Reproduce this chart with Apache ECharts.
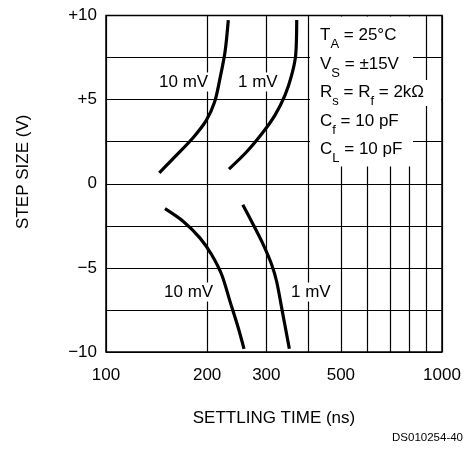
<!DOCTYPE html>
<html><head><meta charset="utf-8">
<script src="https://cdn.jsdelivr.net/npm/echarts@6/dist/echarts.min.js"></script>
<style>html,body{margin:0;padding:0;background:#fff}#c{width:467px;height:449px}</style>
</head><body><div id="c"></div>
<script>
// ---- data ----
const xGridTicks = [100, 200, 300, 400, 500, 600, 700, 800, 900, 1000];
const xTickLabels = [100, 200, 300, 500, 1000];
const yTickValues = [-10, -5, 0, 5, 10];
const yTickLabels = ['\u221210', '\u22125', '0', '+5', '+10'];
const pos10mV = [[144.1, 0.65], [162.4, 1.71], [181.9, 2.75], [198.6, 3.75], [210.6, 4.87], [218.4, 6.26], [226.1, 7.85], [231.2, 9.73]];
const pos1mV  = [[232.3, 0.87], [262.3, 1.90], [294.0, 3.09], [318.4, 4.08], [341.1, 5.27], [356.9, 6.46], [366.9, 7.65], [369.5, 9.73]];
const neg10mV = [[149.8, -1.48], [169.9, -2.24], [190.5, -3.23], [206.3, -4.22], [221.0, -5.41], [233.9, -6.99], [247.6, -8.57], [257.5, -9.81]];
const neg1mV  = [[255.3, -1.25], [274.4, -2.44], [294.0, -3.63], [311.3, -4.81], [322.0, -5.81], [333.4, -7.39], [351.3, -9.81]];
const conditions = [
  ['T', 'A', ' = 25\u00B0C'],
  ['V', 'S', ' = \u00B115V'],
  ['R', 's', ' = R', 'f', ' = 2k\u03A9'],
  ['C', 'f', ' = 10 pF'],
  ['C', 'L', ' = 10 pF']
];
// ---- chart ----
const FONT = 'Liberation Sans';
const chart = echarts.init(document.getElementById('c'));
const lineSeries = (d) => ({
  type: 'line', data: d, smooth: 0.3, showSymbol: false, symbol: 'none',
  lineStyle: { color: '#000', width: 3.2 }, z: 5, animation: false
});
function condText(parts) {
  let s = '';
  parts.forEach((p, i) => { s += (i % 2 === 0 ? '{m|' : '{s|') + p + '}'; });
  return s;
}
const rich = {
  m: { fontSize: 17, lineHeight: 18, fontFamily: FONT, color: '#000', verticalAlign: 'top' },
  s: { fontSize: 13, lineHeight: 13, fontFamily: FONT, color: '#000', verticalAlign: 'top', padding: [11, 0, 0, 0] }
};
const graphics = [
  { type: 'rect', shape: { x: 310, y: 16.5, width: 103, height: 150 }, style: { fill: '#fff' }, z: 10 },
  { type: 'rect', shape: { x: 412, y: 80, width: 29, height: 26 }, style: { fill: '#fff' }, z: 10 }
];
conditions.forEach((c, i) => {
  graphics.push({ type: 'text', left: 320, top: 27 + i * 28.5, z: 11,
    style: { text: condText(c), rich: rich } });
});
const curveLabels = [['10 mV', 158, 82], ['1 mV', 237, 82], ['10 mV', 163, 292], ['1 mV', 290, 292]];
curveLabels.forEach(l => {
  graphics.push({ type: 'text', x: l[1], y: l[2], z: 11,
    style: { text: l[0], font: '17px ' + FONT, fill: '#000', verticalAlign: 'middle',
      backgroundColor: '#fff', padding: [1, 1, 1, 1] } });
});
graphics.push({ type: 'text', right: 4, top: 432, z: 11,
  style: { text: 'DS010254-40', font: '11.5px ' + FONT, fill: '#000' } });

chart.setOption({
  animation: false,
  backgroundColor: '#fff',
  grid: { left: 106, right: 25, top: 15.5, bottom: 97, show: true, borderColor: '#000', borderWidth: 1.5, z: 20 },
  xAxis: {
    type: 'log', logBase: 10, min: 100, max: 1000,
    name: 'SETTLING TIME (ns)', nameLocation: 'middle', nameGap: 58,
    nameTextStyle: { fontFamily: FONT, fontSize: 17, color: '#000' },
    axisLine: { show: false },
    axisTick: { show: false, customValues: xGridTicks },
    splitLine: { show: true, lineStyle: { color: '#000', width: 1.2 } },
    axisLabel: { customValues: xTickLabels, margin: 15, fontFamily: FONT, fontSize: 17, color: '#000',
      formatter: v => String(Math.round(v)) }
  },
  yAxis: {
    type: 'value', min: -10, max: 10, interval: 2.5,
    name: 'STEP SIZE (V)', nameLocation: 'middle', nameGap: 74,
    nameTextStyle: { fontFamily: FONT, fontSize: 17, color: '#000', padding: [0, 0, 0, 24] },
    axisLine: { show: false }, axisTick: { show: false },
    splitLine: { show: true, lineStyle: { color: '#000', width: 1.2 } },
    axisLabel: { margin: 9, fontFamily: FONT, fontSize: 17, color: '#000',
      formatter: v => { const i = yTickValues.indexOf(v); return i >= 0 ? yTickLabels[i] : ''; } }
  },
  series: [lineSeries(pos10mV), lineSeries(pos1mV), lineSeries(neg10mV), lineSeries(neg1mV)],
  graphic: graphics
});
</script></body></html>
